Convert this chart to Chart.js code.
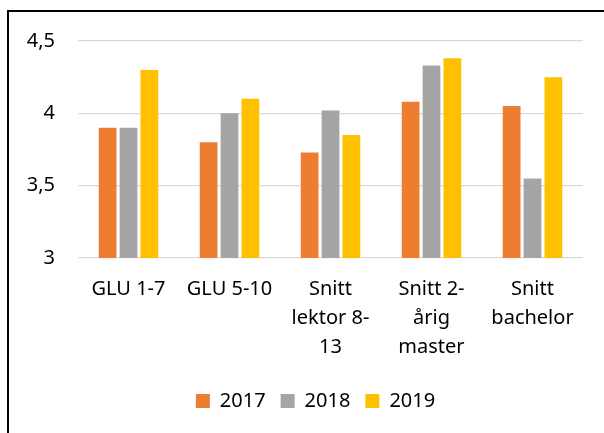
<!DOCTYPE html>
<html>
<head>
<meta charset="utf-8">
<script src="https://cdn.jsdelivr.net/npm/chart.js@4/dist/chart.umd.min.js"></script>
<style>
    html, body { margin: 0; padding: 0; background: #fff; }
    #wrap { position: relative; width: 604px; height: 433px; overflow: hidden; }
    #frame {
        position: absolute; left: 7px; top: 10px; width: 700px; height: 500px;
        border-left: 2px solid #000; border-top: 2px solid #000;
    }
    #chart { position: absolute; left: 0; top: 0; }
</style>
</head>
<body>
<div id="wrap">
    <div id="frame"></div>
    <canvas id="chart" width="604" height="433"></canvas>
</div>
<script>
// kategorier og verdier
const categories = [
    ["GLU 1-7"],
    ["GLU 5-10"],
    ["Snitt", "lektor 8-", "13"],
    ["Snitt 2-", "årig", "master"],
    ["Snitt", "bachelor"]
];
const years = ["2017", "2018", "2019"];
const v2017 = [3.90, 3.80, 3.73, 4.08, 4.05];
const v2018 = [3.90, 4.00, 4.02, 4.33, 3.55];
const v2019 = [4.30, 4.10, 3.85, 4.38, 4.25];
const yTicks = [3, 3.5, 4, 4.5];
const yTickLabels = ["3", "3,5", "4", "4,5"];

const colors = ["#ED7D31", "#A5A5A5", "#FFC000"];
const font = { family: "'Noto Sans'", size: 20 };

// flytter legenden litt mot høyre, som i Excel-figuren
const shiftLegend = {
    id: "shiftLegend",
    afterLayout(chart) {
        chart.legend.left += 24;
        chart.legend.right += 24;
    }
};

new Chart(document.getElementById("chart"), {
    type: "bar",
    data: {
        labels: categories,
        datasets: [v2017, v2018, v2019].map((d, i) => ({
            label: years[i],
            data: d,
            backgroundColor: colors[i],
            categoryPercentage: 0.62,
            barPercentage: 0.85
        }))
    },
    options: {
        responsive: false,
        animation: false,
        layout: { padding: { top: 41, right: 21, bottom: 12, left: 0 } },
        plugins: {
            legend: {
                position: "bottom",
                labels: {
                    color: "#000",
                    font: font,
                    boxWidth: 14,
                    boxHeight: 14,
                    padding: 15
                }
            },
            tooltip: { enabled: false }
        },
        scales: {
            x: {
                grid: { display: false },
                border: { display: false },
                ticks: { color: "#000", font: { ...font, lineHeight: 1.45 }, padding: 9, maxRotation: 0, autoSkip: false },
                afterFit: s => { s.height = 118; }
            },
            y: {
                min: 3,
                max: 4.5,
                afterBuildTicks: s => { s.ticks = yTicks.map(v => ({ value: v })); },
                grid: { color: "#d9d9d9", lineWidth: 1.3, drawTicks: false },
                border: { display: false },
                ticks: {
                    color: "#000",
                    font: font,
                    padding: 23,
                    callback: v => yTickLabels[yTicks.indexOf(v)]
                },
                afterFit: s => { s.width = 78; }
            }
        }
    },
    plugins: [shiftLegend]
});
</script>
</body>
</html>
